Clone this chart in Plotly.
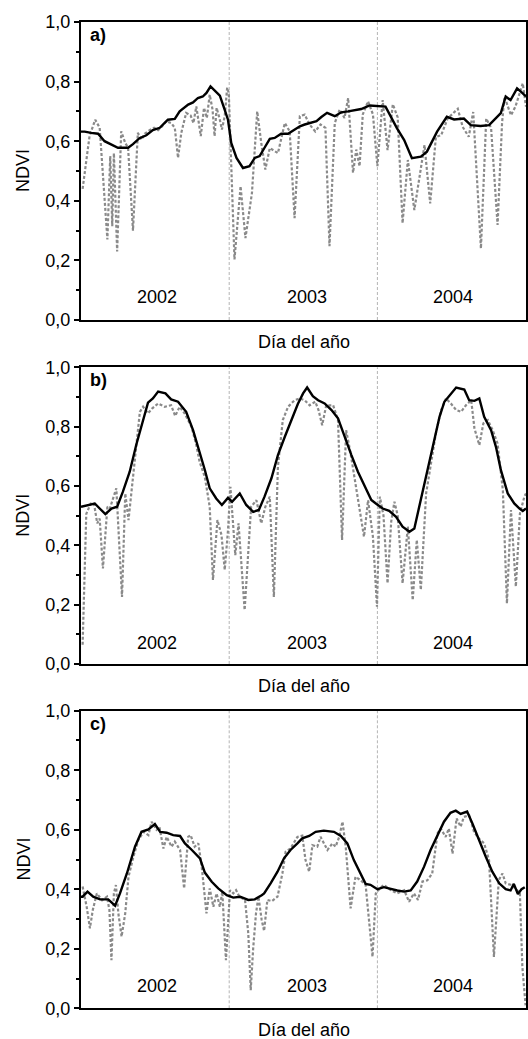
import plotly.graph_objects as go

# ---------------- data ----------------
years = ["2002", "2003", "2004"]
year_label_day = [187, 557, 916]
year_bounds = [365, 730]
panel_labels = ["a)", "b)", "c)"]
year_label_ndvi = [0.078, 0.070, 0.076]

# Panel a
a_smooth_day = [0, 9, 25, 42, 58, 75, 91, 116, 128, 144, 161, 177, 194, 214, 231, 243, 264, 276, 288, 300,
                309, 319, 329, 342, 354, 362, 370, 383, 399, 415, 428, 440, 452, 465, 477, 493, 510, 526,
                539, 551, 567, 580, 592, 606, 625, 641, 658, 674, 690, 711, 734, 750, 778, 796, 815, 837,
                852, 877, 901, 919, 943, 960, 984, 1005, 1034, 1046, 1058, 1074, 1086, 1096]
a_smooth_ndvi = [0.632, 0.632, 0.628, 0.625, 0.600, 0.590, 0.578, 0.578, 0.590, 0.610, 0.620, 0.637, 0.645,
                 0.672, 0.675, 0.700, 0.723, 0.730, 0.745, 0.750, 0.762, 0.784, 0.770, 0.753, 0.705, 0.672,
                 0.594, 0.544, 0.510, 0.516, 0.544, 0.550, 0.578, 0.608, 0.611, 0.625, 0.625, 0.639, 0.650,
                 0.656, 0.661, 0.667, 0.681, 0.695, 0.684, 0.697, 0.700, 0.704, 0.708, 0.720, 0.718, 0.716,
                 0.644, 0.604, 0.543, 0.548, 0.565, 0.632, 0.682, 0.673, 0.676, 0.654, 0.651, 0.654, 0.694,
                 0.750, 0.738, 0.777, 0.763, 0.750]
a_raw_day = [4, 21, 35, 46, 65, 72, 77, 81, 89, 99, 109, 116, 128, 140, 149, 157, 169, 180, 190, 200, 210,
             222, 231, 239, 247, 259, 270, 277, 284, 295, 303, 310, 317, 324, 329, 334, 342, 347, 354, 360,
             364, 378, 393, 405, 421, 434, 444, 454, 465, 485, 502, 514, 526, 539, 551, 563, 577, 590, 602,
             612, 625, 637, 649, 658, 670, 678, 686, 694, 707, 719, 730,
             743, 755, 768, 780, 792, 805, 821, 846, 860, 874, 887, 903, 928, 940, 955, 966, 985, 998, 1010,
             1026, 1037, 1043, 1059, 1070, 1080, 1088, 1096]
a_raw_ndvi = [0.440, 0.617, 0.672, 0.645, 0.270, 0.550, 0.315, 0.560, 0.230, 0.633, 0.594, 0.578, 0.300,
              0.628, 0.605, 0.625, 0.637, 0.645, 0.637, 0.650, 0.667, 0.661, 0.645, 0.544, 0.628, 0.695,
              0.686, 0.661, 0.717, 0.617, 0.712, 0.678, 0.756, 0.706, 0.617, 0.712, 0.672, 0.639, 0.684,
              0.780,
              0.762, 0.203, 0.449, 0.275, 0.426, 0.700, 0.594, 0.505, 0.577, 0.560, 0.661, 0.633, 0.342,
              0.684, 0.689, 0.656, 0.633, 0.656, 0.645, 0.248, 0.661, 0.706, 0.678, 0.745, 0.494, 0.572,
              0.516, 0.690, 0.734, 0.690, 0.516,
              0.738, 0.570, 0.724, 0.680, 0.325, 0.537, 0.369, 0.587, 0.391, 0.614, 0.620, 0.676, 0.709,
              0.648, 0.615, 0.698, 0.240, 0.676, 0.645, 0.319, 0.660, 0.749, 0.687, 0.716, 0.760, 0.794,
              0.716]

# Panel b
b_smooth_day = [0, 17, 34, 46, 60, 75, 89, 103, 120, 136, 150, 165, 177, 190, 208, 222, 239, 259, 276, 292,
                305, 317, 333, 347, 362, 372, 391, 407, 424, 438, 452, 469, 485, 502, 518, 534, 547, 557,
                571, 584, 600, 617, 633, 649, 666, 682, 699, 715, 727, 743, 759, 776, 792, 809, 821, 833,
                850, 866, 883, 895, 911, 924, 944, 956, 969, 981, 993, 1010, 1022, 1034, 1051, 1067, 1080,
                1088, 1096]
b_smooth_ndvi = [0.530, 0.536, 0.541, 0.524, 0.505, 0.524, 0.530, 0.580, 0.648, 0.738, 0.811, 0.881, 0.895,
                 0.918, 0.912, 0.892, 0.884, 0.850, 0.788, 0.715, 0.654, 0.592, 0.558, 0.536, 0.560, 0.547,
                 0.575, 0.536, 0.513, 0.519, 0.564, 0.626, 0.704, 0.766, 0.822, 0.876, 0.912, 0.932, 0.903,
                 0.889, 0.878, 0.856, 0.828, 0.766, 0.704, 0.648, 0.598, 0.553, 0.540, 0.524, 0.516, 0.496,
                 0.463, 0.446, 0.457, 0.530, 0.631, 0.732, 0.833, 0.884, 0.912, 0.932, 0.925, 0.889, 0.887,
                 0.895, 0.833, 0.788, 0.732, 0.654, 0.575, 0.541, 0.524, 0.516, 0.524]
b_raw_day = [4, 13, 24, 32, 40, 46, 54, 65, 71, 87, 101, 109, 117, 128, 136, 145, 153, 165, 175, 190, 206,
             222, 232, 243, 255, 272, 284, 292, 305, 317, 325, 336, 346, 354, 362,
             368, 380, 388, 403, 419, 432, 444, 454, 465, 475, 485, 497, 510, 526, 539, 551, 563, 577, 585,
             594, 604, 621, 633, 643, 653, 664, 674, 686, 697, 707, 719, 729,
             736, 745, 755, 764, 772, 780, 792, 805, 817, 827, 837, 850, 862, 874, 887, 899, 911, 924, 936,
             948, 961, 969, 981, 991, 1002, 1014, 1026, 1039, 1049, 1059, 1071, 1081, 1092, 1096]
b_raw_ndvi = [0.065, 0.506, 0.541, 0.541, 0.474, 0.490, 0.322, 0.530, 0.524, 0.592, 0.226, 0.575, 0.485,
              0.620, 0.720, 0.850, 0.867, 0.845, 0.861, 0.878, 0.867, 0.872, 0.836, 0.867, 0.845, 0.800,
              0.738, 0.682, 0.630, 0.530, 0.283, 0.485, 0.435, 0.317, 0.450,
              0.597, 0.367, 0.474, 0.182, 0.530, 0.552, 0.474, 0.530, 0.564, 0.226, 0.665, 0.822, 0.867,
              0.889, 0.895, 0.889, 0.872, 0.884, 0.856, 0.805, 0.872, 0.872, 0.822, 0.418, 0.788, 0.710,
              0.620, 0.519, 0.429, 0.552, 0.429, 0.193,
              0.564, 0.500, 0.272, 0.480, 0.547, 0.500, 0.272, 0.463, 0.215, 0.418, 0.250, 0.575, 0.676,
              0.777, 0.856, 0.895, 0.878, 0.856, 0.850, 0.872, 0.889, 0.794, 0.738, 0.811, 0.822, 0.788,
              0.743, 0.586, 0.204, 0.519, 0.261, 0.507, 0.564, 0.575]

# Panel c
c_smooth_day = [0, 4, 16, 30, 47, 67, 84, 96, 113, 133, 149, 166, 182, 195, 211, 227, 244, 256, 273, 293,
                305, 322, 338, 359, 375, 392, 412, 428, 445, 451, 467, 484, 500, 516, 533, 545, 562, 578,
                598, 623, 640, 656, 672, 689, 701, 713, 730, 746, 763, 779, 796, 812, 828, 845, 861, 878,
                894, 910, 923, 935, 951, 964, 980, 997, 1013, 1030, 1046, 1058, 1066, 1076, 1085, 1093]
c_smooth_ndvi = [0.375, 0.375, 0.392, 0.375, 0.366, 0.366, 0.345, 0.386, 0.453, 0.543, 0.593, 0.601, 0.619,
                 0.593, 0.590, 0.582, 0.579, 0.554, 0.532, 0.504, 0.456, 0.425, 0.403, 0.380, 0.372, 0.375,
                 0.364, 0.366, 0.380, 0.386, 0.420, 0.459, 0.504, 0.532, 0.554, 0.571, 0.579, 0.593, 0.597,
                 0.593, 0.579, 0.554, 0.498, 0.448, 0.418, 0.415, 0.400, 0.407, 0.400, 0.396, 0.392, 0.396,
                 0.426, 0.476, 0.532, 0.582, 0.627, 0.657, 0.664, 0.653, 0.661, 0.621, 0.565, 0.509, 0.459,
                 0.420, 0.400, 0.396, 0.418, 0.384, 0.400, 0.407]
c_raw_day = [4, 14, 22, 29, 39, 52, 64, 70, 75, 81, 86, 92, 100, 109, 117, 129, 141, 154, 166, 174, 186,
             193, 203, 211, 223, 231, 244, 254, 264, 270, 280, 289, 297, 309, 317, 326, 334, 342, 348, 357,
             367, 375, 382, 390, 404, 412, 418, 424, 431, 437, 445, 451, 459, 470, 484, 496, 504, 516, 533,
             545, 553, 562, 570, 582, 590, 599, 607, 619, 627, 636, 644, 652, 664, 676, 689, 701, 709, 718,
             726, 736, 746, 763, 779, 796, 808, 820, 830, 841, 853, 865, 878, 886, 898, 906, 915, 925, 935,
             943, 956, 968, 980, 993, 1005, 1017, 1029, 1038, 1046, 1058, 1070, 1081, 1087, 1095]
c_raw_ndvi = [0.409, 0.341, 0.269, 0.330, 0.386, 0.363, 0.375, 0.330, 0.162, 0.386, 0.414, 0.319, 0.241,
              0.320, 0.442, 0.509, 0.565, 0.593, 0.582, 0.627, 0.600, 0.610, 0.537, 0.576, 0.543, 0.560,
              0.532, 0.403, 0.576, 0.582, 0.543, 0.554, 0.480, 0.319, 0.403, 0.341, 0.386, 0.341, 0.392,
              0.162, 0.397, 0.386, 0.397, 0.375, 0.364, 0.252, 0.061, 0.200, 0.319, 0.375, 0.297, 0.260,
              0.364, 0.360, 0.375, 0.453, 0.526, 0.537, 0.576, 0.580, 0.498, 0.459, 0.548, 0.543, 0.576,
              0.554, 0.532, 0.554, 0.543, 0.576, 0.627, 0.543, 0.336, 0.442, 0.430, 0.415, 0.300, 0.173,
              0.386, 0.403, 0.415, 0.397, 0.386, 0.397, 0.358, 0.386, 0.364, 0.426, 0.430, 0.453, 0.588,
              0.604, 0.576, 0.604, 0.520, 0.638, 0.610, 0.643, 0.649, 0.593, 0.570, 0.554, 0.498, 0.173,
              0.431, 0.453, 0.420, 0.415, 0.403, 0.386, 0.139, 0.010]

y_ticks = [0.0, 0.2, 0.4, 0.6, 0.8, 1.0]
x_title = "Día del año"
y_title = "NDVI"

# ---------------- figure ----------------
W, H = 528, 1039
FONT = "Liberation Sans, Arial, sans-serif"
domains_px = [(22, 320), (367.3, 664), (710.7, 1008.3)]

panels = [
    (a_raw_day, a_raw_ndvi, a_smooth_day, a_smooth_ndvi),
    (b_raw_day, b_raw_ndvi, b_smooth_day, b_smooth_ndvi),
    (c_raw_day, c_raw_ndvi, c_smooth_day, c_smooth_ndvi),
]

fig = go.Figure()
layout = dict(
    width=W, height=H,
    margin=dict(l=81, r=2, t=0, b=0, autoexpand=False),
    paper_bgcolor="white", plot_bgcolor="white",
    separators=",.",
    font=dict(family=FONT, size=18, color="black"),
    showlegend=False,
)
annotations = []
shapes = []

for i, (rd, rv, sd, sv) in enumerate(panels):
    n = "" if i == 0 else str(i + 1)
    xa, ya = "x" + n, "y" + n
    top, bot = domains_px[i]
    dom = [1 - bot / H, 1 - top / H]

    fig.add_trace(go.Scatter(x=rd, y=rv, mode="lines", xaxis=xa, yaxis=ya,
                             line=dict(color="#8a8a8a", width=2.2, dash="3px,2px"),
                             hoverinfo="skip"))
    fig.add_trace(go.Scatter(x=sd, y=sv, mode="lines", xaxis=xa, yaxis=ya,
                             line=dict(color="black", width=2.4),
                             hoverinfo="skip"))

    layout["xaxis" + n] = dict(domain=[0, 1], range=[0, 1096], anchor=ya, automargin=False,
                               showline=True, linecolor="black", linewidth=2, mirror=True,
                               showticklabels=False, ticks="", showgrid=False, zeroline=False)
    layout["yaxis" + n] = dict(domain=dom, range=[0, 1], anchor=xa, automargin=False,
                               showline=True, linecolor="black", linewidth=2, mirror=True,
                               tickvals=y_ticks, tickformat=".1f", ticks="outside",
                               ticklen=5, tickwidth=2, tickcolor="black",
                               minor=dict(dtick=0.1, tick0=0, ticks="outside", ticklen=3,
                                          tickwidth=1.5, tickcolor="black", showgrid=False),
                               tickfont=dict(size=18),
                               showgrid=False, zeroline=False)

    for b in year_bounds:
        shapes.append(dict(type="line", xref=xa, yref=ya + " domain", x0=b, x1=b, y0=0, y1=1,
                           line=dict(color="#b4b4b4", width=1, dash="3px,2px"), layer="below"))

    for yl, yd in zip(years, year_label_day):
        annotations.append(dict(text=yl, x=yd, y=year_label_ndvi[i], xref=xa, yref=ya,
                                showarrow=False, font=dict(size=18), xanchor="center", yanchor="middle"))

    annotations.append(dict(text="<b>" + panel_labels[i] + "</b>", x=0.015, y=0.956,
                            xref=xa + " domain", yref=ya + " domain", showarrow=False,
                            xanchor="left", yanchor="middle", font=dict(size=18)))
    annotations.append(dict(text=x_title, x=0.5, y=0, xref=xa + " domain", yref=ya + " domain",
                            yshift=-22, showarrow=False, xanchor="center", yanchor="middle",
                            font=dict(size=18)))
    annotations.append(dict(text=y_title, x=0, y=0.5, xref=xa + " domain", yref=ya + " domain",
                            xshift=-58, textangle=-90, showarrow=False, xanchor="center",
                            yanchor="middle", font=dict(size=18)))

layout["annotations"] = annotations
layout["shapes"] = shapes
fig.update_layout(**layout)
fig.write_html("out.html",
               config={"displayModeBar": False},
               post_script="document.body.style.margin='0px';"
                           "document.body.style.overflow='hidden';"
                           "document.documentElement.style.overflow='hidden';")
